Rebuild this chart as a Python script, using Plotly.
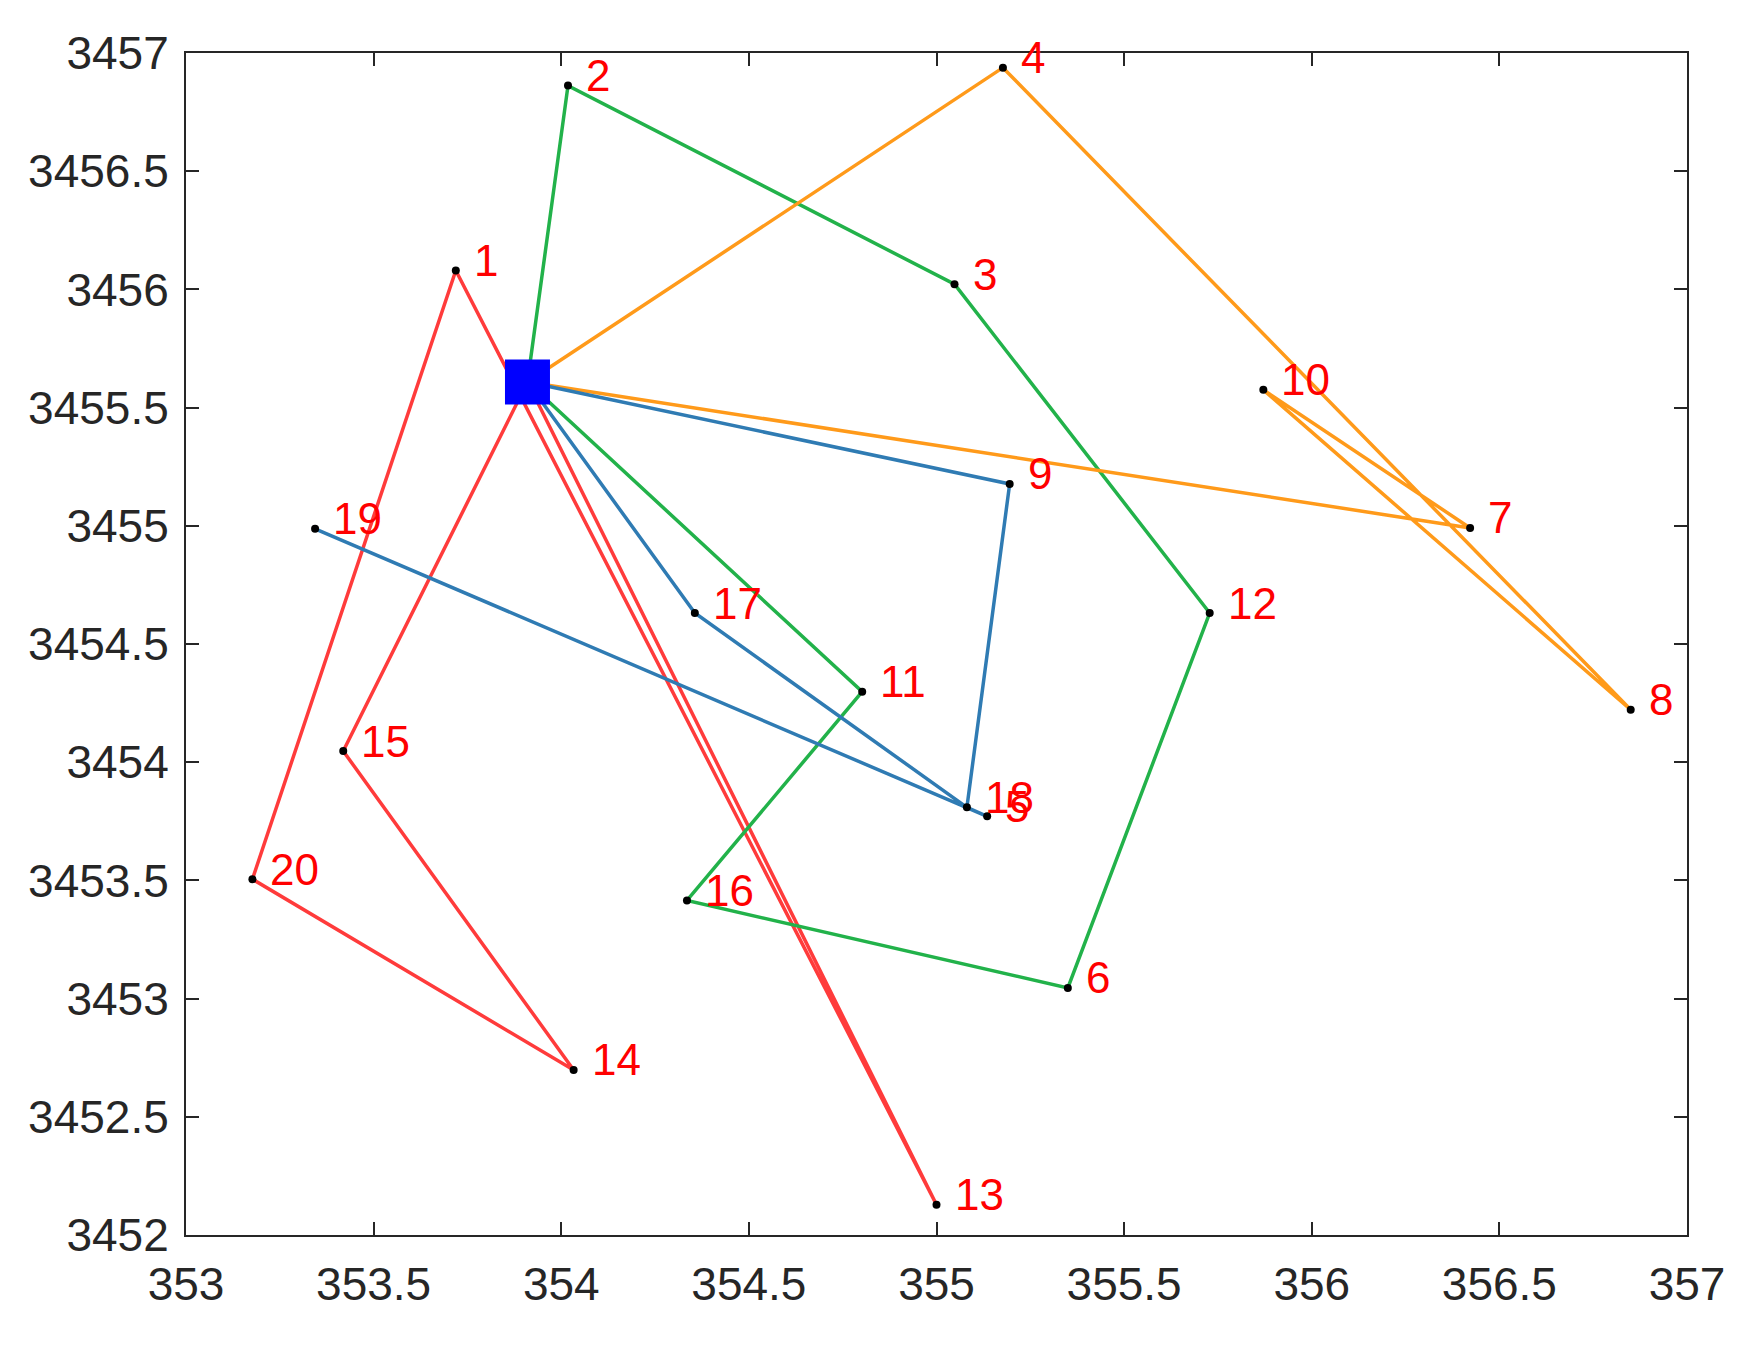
import plotly.graph_objects as go

# Node coordinates (index 0 = depot)
node_ids = list(range(0, 21))
node_x = [353.910, 353.719, 354.018, 355.048, 355.177, 355.135, 355.350, 356.422, 356.850, 355.195,
          355.871, 354.802, 355.728, 355.000, 354.033, 353.419, 354.335, 354.356, 355.081, 353.344, 353.177]
node_y = [3455.608, 3456.080, 3456.862, 3456.022, 3456.938, 3453.771, 3453.045, 3454.991, 3454.222, 3455.177,
          3455.575, 3454.298, 3454.631, 3452.128, 3452.698, 3454.047, 3453.415, 3454.631, 3453.809, 3454.987, 3453.505]

# Vehicle routes as node sequences
route_red = [0, 13, 1, 20, 14, 15, 0]
route_green = [0, 2, 3, 12, 6, 16, 11, 0]
route_orange = [0, 4, 8, 10, 7, 0]
route_blue = [19, 5, 18, 9, 0, 17, 18]

routes = [route_red, route_green, route_orange, route_blue]
route_colors = ["#FF3B3B", "#22B24A", "#FF9A1A", "#2F7BB3"]

x_ticks = [353, 353.5, 354, 354.5, 355, 355.5, 356, 356.5, 357]
y_ticks = [3452, 3452.5, 3453, 3453.5, 3454, 3454.5, 3455, 3455.5, 3456, 3456.5, 3457]

fig = go.Figure()

for r, c in zip(routes, route_colors):
    fig.add_trace(go.Scatter(
        x=[node_x[i] for i in r], y=[node_y[i] for i in r],
        mode="lines", line=dict(color=c, width=3.5), showlegend=False, hoverinfo="skip"))

# customer points
fig.add_trace(go.Scatter(
    x=node_x[1:], y=node_y[1:], mode="markers",
    marker=dict(color="black", size=8), showlegend=False))

# depot
fig.add_trace(go.Scatter(
    x=[node_x[0]], y=[node_y[0]], mode="markers",
    marker=dict(color="#0000FF", size=45, symbol="square", line=dict(width=0)),
    showlegend=False))

for i in node_ids[1:]:
    fig.add_annotation(x=node_x[i], y=node_y[i], text=str(i), showarrow=False,
                       xanchor="left", yanchor="middle", xshift=16, yshift=10,
                       font=dict(family="Liberation Sans, Arial, sans-serif", size=44, color="#FF0000"))

axis_common = dict(
    showline=True, linecolor="#262626", linewidth=2, mirror="ticks",
    ticks="inside", ticklen=13, tickwidth=2, tickcolor="#262626",
    showgrid=False, zeroline=False,
    tickfont=dict(family="Liberation Sans, Arial, sans-serif", size=46, color="#262626"),
)

fig.update_xaxes(range=[353, 357], tickvals=x_ticks,
                 ticktext=[f"{v:g}" for v in x_ticks], ticklabelstandoff=8, **axis_common)
fig.update_yaxes(range=[3452, 3457], tickvals=y_ticks,
                 ticktext=[f"{v:g}" for v in y_ticks], ticklabelstandoff=6, **axis_common)

fig.update_layout(
    width=1761, height=1346,
    margin=dict(l=178, r=82, t=45, b=119),
    paper_bgcolor="white", plot_bgcolor="white",
)

fig.write_html("out.html")
